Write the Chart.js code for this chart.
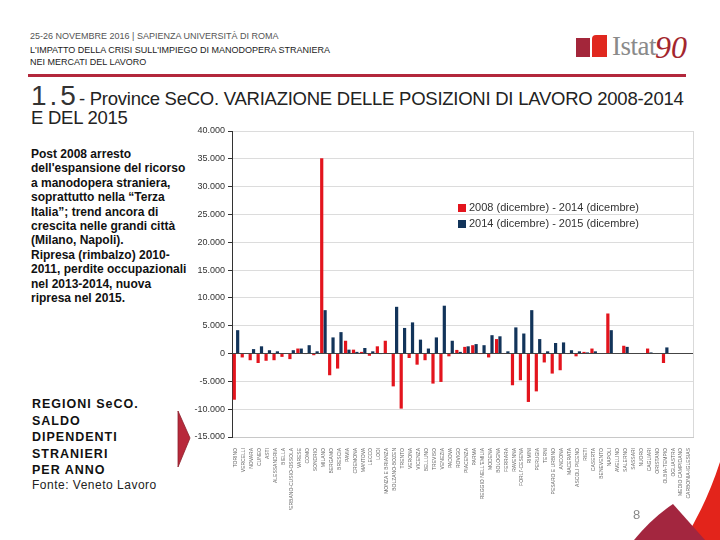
<!DOCTYPE html>
<html>
<head>
<meta charset="utf-8">
<script src="https://cdn.jsdelivr.net/npm/chart.js@4.4.0/dist/chart.umd.min.js"></script>
<style>
  body { margin: 0; width: 720px; height: 540px; position: relative; overflow: hidden; background: #fff; font-family: "Liberation Sans", Arial, sans-serif; }
  .abs { position: absolute; white-space: nowrap; }
  #hdr1 { left: 30px; top: 31px; font-size: 9px; color: #555; }
  #hdr2 { left: 30px; top: 45px; font-size: 9px; color: #222; line-height: 11.5px; }
  #rule { left: 28px; top: 74px; width: 658px; height: 3px; background: #b3283c; }
  #title { left: 31px; top: 86px; font-size: 18.5px; color: #222; line-height: 19px; letter-spacing: -0.25px; }
  #title .big { font-size: 28px; color: #333; letter-spacing: 3px; }
  #note { left: 31px; top: 147px; font-size: 12px; font-weight: bold; color: #111; line-height: 14.4px; }
  #reg { left: 32px; top: 396px; font-size: 12.5px; font-weight: bold; color: #111; line-height: 16.6px; letter-spacing: 1px; }
  #src { left: 32px; top: 478px; font-size: 12px; color: #222; letter-spacing: 0.5px; }
  #cv { position: absolute; left: 190px; top: 120px; }
  #legend { left: 458px; top: 199px; font-size: 11px; color: #333; line-height: 16px; }
  #legend span.sw { display: inline-block; width: 8px; height: 8px; margin-right: 3px; vertical-align: -0.5px; }
  #page { left: 633px; top: 507px; font-size: 13px; color: #888; }
  #logo1 { left: 612px; top: 31px; font-family: "Liberation Serif", serif; font-size: 27px; color: #8a8a8a; letter-spacing: -0.5px; }
  #logo2 { left: 655px; top: 29px; font-family: "Liberation Serif", serif; font-style: italic; font-size: 32px; color: #a3262e; }
</style>
</head>
<body>
<div class="abs" id="hdr1">25-26 NOVEMBRE 2016 | SAPIENZA UNIVERSITÀ DI ROMA</div>
<div class="abs" id="hdr2">L'IMPATTO DELLA CRISI SULL'IMPIEGO DI MANODOPERA STRANIERA<br>NEI MERCATI DEL LAVORO</div>
<div class="abs" id="rule"></div>
<svg class="abs" style="left:0;top:0" width="720" height="540">
  <rect x="576" y="38" width="14" height="19" fill="#a3263a"/>
  <path d="M592 57 L592 39 Q592 35 596 35 L607 35 L607 57 Z" fill="#e0281f"/>
  <path d="M178 411 L190 438 L178 467 Z" fill="#b8293b" stroke="#8a1f2c" stroke-width="0.8"/>
  <path d="M720 462 Q706 505 684 540 L720 540 Z" fill="#e3241b"/>
  <path d="M634 540 Q652 518 673 504 L705 540 Z" fill="#a3263f"/>
</svg>
<div class="abs" id="logo1">Istat</div>
<div class="abs" id="logo2">90</div>
<div class="abs" id="title"><span class="big">1.5</span>- Province SeCO. VARIAZIONE DELLE POSIZIONI DI LAVORO 2008-2014<br>E DEL 2015</div>
<div class="abs" id="note">Post 2008 arresto<br>dell'espansione del ricorso<br>a manodopera straniera,<br>soprattutto nella “Terza<br>Italia”; trend ancora di<br>crescita nelle grandi città<br>(Milano, Napoli).<br>Ripresa (rimbalzo) 2010-<br>2011, perdite occupazionali<br>nel 2013-2014, nuova<br>ripresa nel 2015.</div>
<div class="abs" id="reg">REGIONI SeCO.<br>SALDO<br>DIPENDENTI<br>STRANIERI<br>PER ANNO</div>
<div class="abs" id="src">Fonte: Veneto Lavoro</div>
<canvas id="cv" width="530" height="390"></canvas>
<div class="abs" id="legend"><span class="sw" style="background:#e3141d"></span>2008 (dicembre) - 2014 (dicembre)<br><span class="sw" style="background:#12345a"></span>2014 (dicembre) - 2015 (dicembre)</div>
<div class="abs" id="page">8</div>
<script>
const province = ['TORINO', 'VERCELLI', 'NOVARA', 'CUNEO', 'ASTI', 'ALESSANDRIA', 'BIELLA', 'VERBANO-CUSIO-OSSOLA',
  'VARESE', 'COMO', 'SONDRIO', 'MILANO', 'BERGAMO', 'BRESCIA', 'PAVIA', 'CREMONA', 'MANTOVA', 'LECCO', 'LODI',
  'MONZA E BRIANZA', 'BOLZANO-BOZEN', 'TRENTO', 'VERONA', 'VICENZA', 'BELLUNO', 'TREVISO', 'VENEZIA', 'PADOVA',
  'ROVIGO', 'PIACENZA', 'PARMA', "REGGIO NELL'EMILIA", 'MODENA', 'BOLOGNA', 'FERRARA', 'RAVENNA', "FORLI'-CESENA",
  'RIMINI', 'PERUGIA', 'TERNI', 'PESARO E URBINO', 'ANCONA', 'MACERATA', 'ASCOLI PICENO', 'RIETI', 'CASERTA',
  'BENEVENTO', 'NAPOLI', 'AVELLINO', 'SALERNO', 'SASSARI', 'NUORO', 'CAGLIARI', 'ORISTANO', 'OLBIA-TEMPIO',
  'OGLIASTRA', 'MEDIO CAMPIDANO', 'CARBONIA-IGLESIAS'];

const var2008_2014 = [-8300, -700, -1200, -1700, -1300, -1200, -600, -1000,
  900, -100, -300, 35100, -3900, -2700, 2300, 700, 300, -400, 1300,
  2300, -5900, -9900, -800, -2000, -1200, -5400, -5100, -500,
  650, 1200, 1500, -50, -700, 2600, 100, -5700, -4800,
  -8700, -6800, -1600, -3600, -3000, -100, -500, 300, 900,
  0, 7200, 0, 1400, 0, 0, 900, 0, -1700,
  0, 0, 0];

const var2014_2015 = [4200, 0, 800, 1300, 600, 400, 0, 600,
  900, 1500, 400, 7800, 2900, 3850, 700, 300, 1000, 400, -100,
  0, 8400, 4600, 5600, 2500, 900, 2900, 8600, 2300,
  300, 1300, 1700, 1500, 3300, 3100, 400, 4700, 3600,
  7800, 2600, 400, 1900, 2000, 600, 400, 200, 400,
  0, 4200, 0, 1200, 0, 0, 200, 0, 1100,
  0, 0, 0];

const yTicks = { min: -15000, max: 40000, step: 5000 };

function fmt(v) {
  const s = String(Math.abs(v)).replace(/\B(?=(\d{3})+(?!\d))/g, '.');
  return v < 0 ? '-' + s : s;
}

const frame = {
  id: 'frame',
  afterDraw(chart) {
    const { ctx, chartArea } = chart;
    ctx.save();
    ctx.strokeStyle = '#d9d9d9';
    ctx.lineWidth = 1;
    ctx.beginPath();
    ctx.moveTo(chartArea.right + 0.5, chartArea.top);
    ctx.lineTo(chartArea.right + 0.5, chartArea.bottom);
    ctx.stroke();
    ctx.restore();
  }
};

new Chart(document.getElementById('cv').getContext('2d'), {
  type: 'bar',
  data: {
    labels: province,
    datasets: [
      { label: '2008 (dicembre) - 2014 (dicembre)', data: var2008_2014, backgroundColor: '#e3141d',
        categoryPercentage: 0.85, barPercentage: 0.95 },
      { label: '2014 (dicembre) - 2015 (dicembre)', data: var2014_2015, backgroundColor: '#12345a',
        categoryPercentage: 0.85, barPercentage: 0.95 },
    ],
  },
  options: {
    responsive: false,
    animation: false,
    devicePixelRatio: 1,
    layout: { padding: { top: 11, right: 27, left: 0, bottom: 0 } },
    plugins: { legend: { display: false }, tooltip: { enabled: false } },
    scales: {
      x: {
        grid: { display: false },
        border: { display: true, color: '#c8c8c8' },
        ticks: {
          autoSkip: false, maxRotation: 90, minRotation: 90, padding: 3,
          font: { family: 'Liberation Sans', size: 5 }, color: '#666',
        },
        afterFit: (scale) => { scale.height = 73; },
      },
      y: {
        min: yTicks.min,
        max: yTicks.max,
        ticks: {
          stepSize: yTicks.step,
          callback: (v) => fmt(v),
          font: { family: 'Liberation Sans', size: 9 }, color: '#333', padding: 3,
        },
        grid: {
          color: (c) => (c.tick && c.tick.value === 0 ? '#444' : '#dcdcdc'),
          tickColor: '#333', tickLength: 4,
        },
        border: { color: '#333' },
        afterFit: (scale) => { scale.width = 42; },
      },
    },
  },
  plugins: [frame],
});
</script>
</body>
</html>
